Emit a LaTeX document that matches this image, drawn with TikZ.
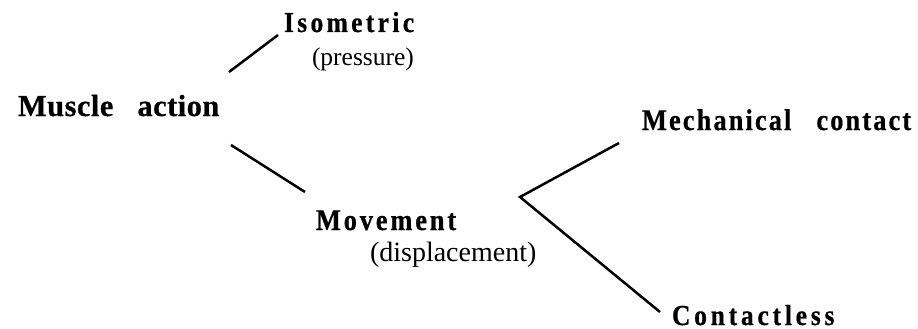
\documentclass[tikz,border=0pt]{standalone}
\usepackage{fontspec}
\setmainfont{Liberation Serif}
\newcommand{\trk}[2]{\addfontfeature{LetterSpace=#1,FakeStretch=#2,FakeBold=0.6}}
\tikzset{
  lbl/.style={anchor=base west, inner sep=0pt, outer sep=0pt},
  hd/.style={lbl, font=\bfseries\fontsize{#1}{#1}\selectfont},
  sub/.style={lbl, font=\fontsize{#1}{#1}\selectfont},
  branch/.style={line width=2.5pt, line cap=butt},
}
\begin{document}
\begin{tikzpicture}[x=1pt, y=-1pt]
\useasboundingbox (0,0) rectangle (918,329);
% labels
\node[hd=30.5] (ma) at (18,116) {\addfontfeature{LetterSpace=1.5,FakeBold=0.6}Muscle\hspace{24pt}action};
\node[hd=29] (iso) at (284,32) {\trk{11.5}{0.88}Isometric};
\node[sub=25.5] (pres) at (312,66) {(pressure)};
\node[hd=30] (mov) at (316,230) {\trk{9.5}{0.88}Movement};
\node[sub=28] (disp) at (370,261) {(displacement)};
\node[hd=30] (mech) at (642,130) {\trk{7}{0.88}Mechanical\hspace{25pt}contact};
\node[hd=29] (cless) at (672,325) {\trk{13}{0.88}Contactless};
% connector end points
\coordinate (maU) at (229,72);
\coordinate (isoL) at (278,35);
\coordinate (maD) at (231,145);
\coordinate (movL) at (305,192);
\coordinate (fork) at (520,197);
\coordinate (mechL) at (619,143);
\coordinate (clessL) at (660,312);
% connectors
\draw[branch] (maU) -- (isoL);
\draw[branch] (maD) -- (movL);
\draw[branch] (mechL) -- (fork) -- (clessL);
\end{tikzpicture}
\end{document}
